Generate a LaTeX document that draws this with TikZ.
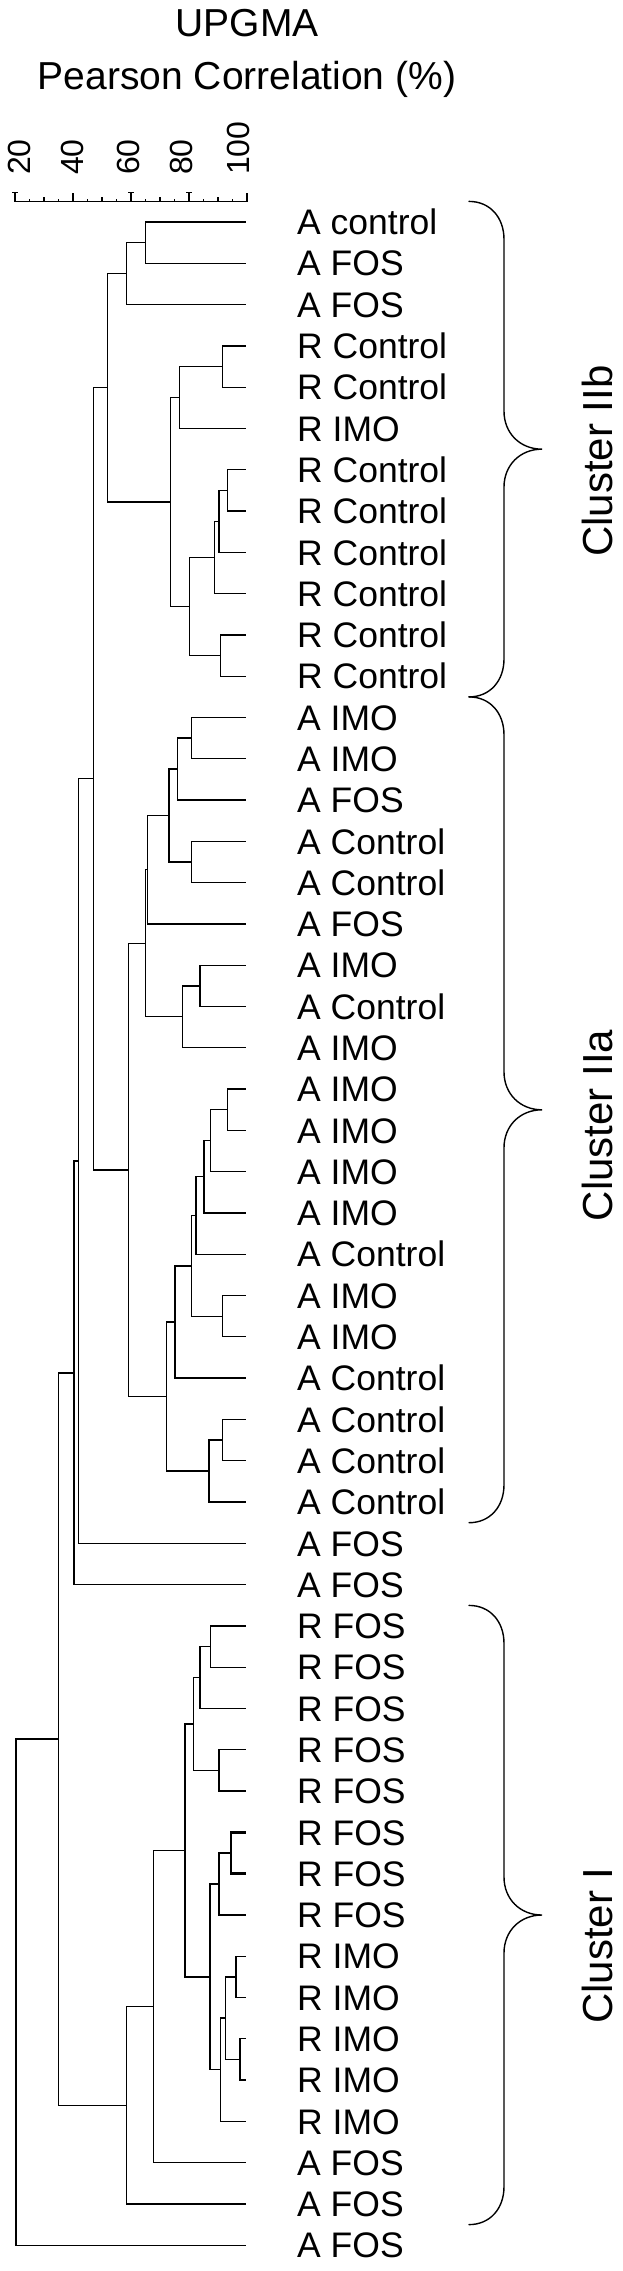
\documentclass[tikz,border=0pt]{standalone}
\usepackage{fontspec}
\setmainfont{Liberation Sans}

\begin{document}
\begin{tikzpicture}[x=1pt, y=-1pt]
\tikzstyle{branch}=[line width=1.3pt]
\tikzstyle{heavy}=[line width=2.6pt]
\tikzstyle{tick}=[line width=1.1pt]
\tikzstyle{leaf}=[anchor=base west, inner sep=0pt, yshift=-12.7pt, font=\fontsize{35.5}{40}\selectfont]
\tikzstyle{scalenum}=[rotate=90, anchor=west, inner sep=0pt, font=\fontsize{32}{36}\selectfont]
\tikzstyle{title}=[anchor=base, inner sep=0pt, font=\fontsize{39}{44}\selectfont]
\tikzstyle{clbrace}=[line width=1.4pt, line cap=round]
\tikzstyle{cluster}=[rotate=90, inner sep=0pt, font=\fontsize{42}{46}\selectfont]

\useasboundingbox (0,0) rectangle (622,2271);

% heading
\node[title] (upgma) at (247,36.7) {UPGMA};
\node[title] (pearson) at (247,89.3) {Pearson Correlation (\%)};

% scale bar
\coordinate (ax0) at (15,201.7);
\coordinate (ax1) at (247,201.7);
\draw[tick] (ax0) -- (ax1);
\foreach \p in {25,30,...,95}
  \draw[tick] ({15+2.9*(\p-20)},201.7) -- ++(0,-3);
\foreach \p in {30,50,70,90}
  \draw[tick] ({15+2.9*(\p-20)},201.7) -- ++(0,-5);
\foreach \p in {20,60,80}
  \draw[tick] ({15+2.9*(\p-20)},201.7) -- ++(0,-9) ++(-3,0) -- ++(6,0);
\foreach \p in {40,100}
  \draw[tick] ({15+2.9*(\p-20)},201.7) -- ++(0,-9);
\foreach \v/\x in {20/19,40/72,60/128,80/181,100/238}
  \node[scalenum] (n\v) at (\x,175) {\v};

% dendrogram, y counted in leaves
\begin{scope}[yshift=-222pt, y=-41.29pt]
\foreach \t [count=\i from 0] in {A control, A FOS, A FOS, R Control, R Control,
    R IMO, R Control, R Control, R Control, R Control, R Control, R Control,
    A IMO, A IMO, A FOS, A Control, A Control, A FOS, A IMO, A Control,
    A IMO, A IMO, A IMO, A IMO, A IMO, A Control, A IMO, A IMO, A Control,
    A Control, A Control, A Control, A FOS, A FOS, R FOS, R FOS, R FOS,
    R FOS, R FOS, R FOS, R FOS, R FOS, R IMO, R IMO, R IMO, R IMO, R IMO,
    A FOS, A FOS, A FOS} {
  \coordinate (l\i) at (245.5,\i);
  \node[leaf] (t\i) at (297,\i) {\t};
}

\foreach \n/\x/\k in {a1/145.7/0.5, a2/126.7/1.25, b1/222.7/3.5, b2/179.3/4.25,
    c1/227.7/6.5, c2/219/7.25, c3/214.3/8.125, c4/220.7/10.5, c5/189.3/9.3125,
    b3/170.7/6.78125, clIIb/107.7/4.015625,
    d1/191.7/12.5, d2/177.3/13.25, d3/191.7/15.5, d4/169/14.375, d5/147.7/15.6875,
    e1/200/18.5, e2/182.7/19.25, d6/145.7/17.46875,
    f1/227.7/21.5, f2/210.7/22.25, f3/204/23.125, f4/196/24.0625, f5/222.7/26.5,
    f6/191.7/25.28125, f7/175/26.640625, g1/222.7/29.5, g2/209/30.25,
    f8/166.7/28.4453, clIIa/128.3/22.957,
    II/93.3/13.486, h1/78.3/22.743, h2/74/27.872,
    i1/210.7/34.5, i2/200/35.25, i3/219/37.5, i4/193.3/36.375,
    j1/231/39.5, j2/219/40.25, j3/236/42.5, j4/240/44.5, j5/225.7/43.5,
    j6/220.7/44.75, j7/210/42.5, i5/185/39.4375, i6/153.3/43.21875,
    clI/126.7/45.609, k1/58.3/36.74, root/16/42.87}
  \coordinate (\n) at (\x,\k);

\foreach \n/\a/\b in {a1/l0/l1, a2/a1/l2, b1/l3/l4, b2/b1/l5, c1/l6/l7,
    c2/c1/l8, c3/c2/l9, c4/l10/l11, c5/c3/c4, b3/b2/c5, clIIb/a2/b3,
    d1/l12/l13, d2/d1/l14, d3/l15/l16, d4/d2/d3, d5/d4/l17, e1/l18/l19,
    e2/e1/l20, d6/d5/e2, f1/l21/l22, f2/f1/l23, f3/f2/l24, f4/f3/l25,
    f5/l26/l27, f6/f4/f5, f7/f6/l28, g1/l29/l30, g2/g1/l31, f8/f7/g2,
    clIIa/d6/f8, II/clIIb/clIIa, h1/II/l32, h2/h1/l33,
    i1/l34/l35, i2/i1/l36, i3/l37/l38, i4/i2/i3, j1/l39/l40, j2/j1/l41,
    j3/l42/l43, j4/l44/l45, j5/j3/j4, j6/j5/l46, j7/j2/j6, i5/i4/j7,
    i6/i5/l47, clI/i6/l48, k1/h2/clI, root/k1/l49}
  \draw[branch] (\a) -| (\n) |- (\b);

\draw[heavy] (l39) -| (j1) |- (l40);
\draw[heavy] (j1) -- (j1 -| j2);
\end{scope}

% cluster braces
\foreach \ya/\yb/\ty/\nm/\lab in {201.4/696.9/461/IIb/Cluster IIb,
    696.9/1522.7/1125.6/IIa/Cluster IIa, 1605.4/2224.6/1945.5/I/Cluster I} {
  \pgfmathsetmacro\ym{(\ya+\yb)/2}
  \draw[clbrace] (469,\ya) .. controls (490,\ya) and (504,{\ya+16}) .. (504,{\ya+38})
    -- (504,{\ym-38}) .. controls (504,{\ym-16}) and (520,\ym) .. (542,\ym)
    .. controls (520,\ym) and (504,{\ym+16}) .. (504,{\ym+38})
    -- (504,{\yb-38}) .. controls (504,{\yb-16}) and (490,\yb) .. (469,\yb);
  \node[cluster] (lab\nm) at (597.5,\ty) {\lab};
}
\end{tikzpicture}
\end{document}
